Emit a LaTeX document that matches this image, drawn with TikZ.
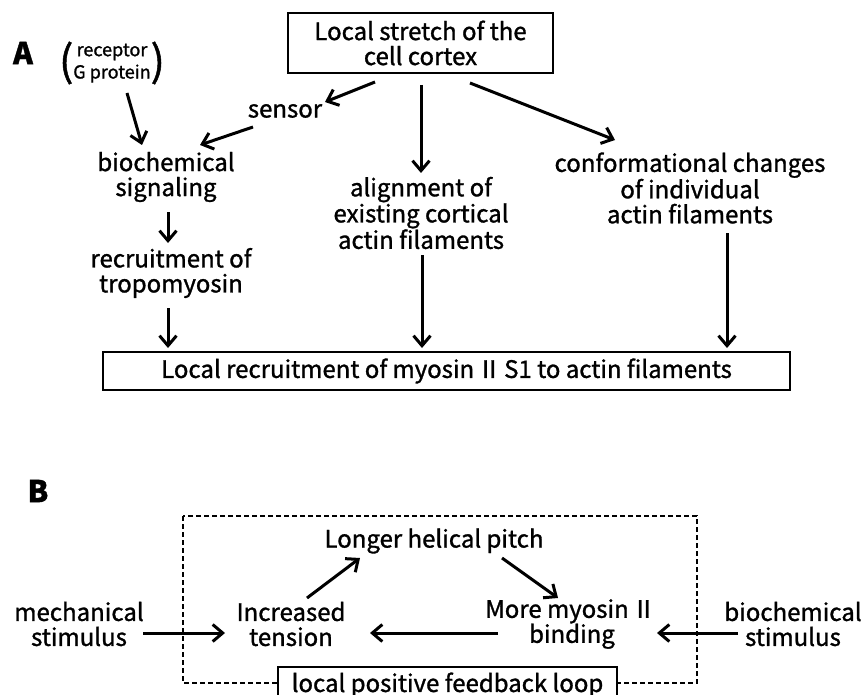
\documentclass[tikz,border=0pt]{standalone}
\usepackage{fontspec}
\setmainfont{Noto Sans CJK JP}[FakeBold=1.2]
\usetikzlibrary{arrows.meta}

\tikzset{
	lbl/.style={align=center, inner sep=2pt, font=\fontsize{24}{25}\selectfont},
	boxed/.style={lbl, draw, line width=2.6pt, inner sep=0pt},
	panel/.style={inner sep=0pt, font=\fontsize{30}{30}\selectfont\bfseries},
	arr/.style={line width=3pt, -{Straight Barb[length=10pt,width=17pt]}},
}
\newcommand{\romII}{\kern3pt Ⅱ\kern3pt}

\begin{document}
\begin{tikzpicture}[x=1pt,y=-1pt]
			%%%%% START %%%%%
			
			\useasboundingbox (0,0) rectangle (861,695);
			\clip (0,0) rectangle (861,695);
			
			% panel A
			\node[panel] (labA) at (23,53) {A};
			\node[boxed, minimum width=265, minimum height=60] (stretch) at (420.5,43) {Local stretch of the\\cell cortex};
			\node[lbl] (gprot) at (112,63) {{\fontsize{42}{42}\selectfont(}\raisebox{8pt}{\fontsize{18}{18}\selectfont\begin{tabular}{@{}c@{}}receptor\\[3pt]G protein\end{tabular}}{\fontsize{42}{42}\selectfont)}};
			\node[lbl] (sensor) at (285,111) {sensor};
			\node[lbl] (biochem) at (166,177) {biochemical\\signaling};
			\node[lbl] (tropo) at (171,273) {recruitment of\\tropomyosin};
			\node[lbl] (align) at (421,213) {alignment of\\existing cortical\\actin filaments};
			\node[lbl] (conf) at (690,188) {conformational changes\\of individual\\actin filaments};
			\node[boxed, minimum width=687, minimum height=38] (recruit) at (446.5,371) {Local recruitment of myosin\romII S1 to actin filaments};
			
			\draw[arr] ([shift={(-45.5,39)}]stretch.center) -- ([shift={(40,-9)}]sensor.center);
			\draw[arr] ([shift={(-32,16)}]sensor.center) -- ([shift={(34,-32)}]biochem.center);
			\draw[arr] ([shift={(15,30)}]gprot.center) -- ([shift={(-24,-32)}]biochem.center);
			\draw[arr] ([shift={(0.5,42)}]stretch.center) -- ([shift={(0,-40)}]align.center);
			\draw[arr] ([shift={(49.5,40)}]stretch.center) -- ([shift={(-75,-48)}]conf.center);
			\draw[arr] ([shift={(2,35)}]biochem.center) -- ([shift={(-3,-30)}]tropo.center);
			\draw[arr] ([shift={(-3,35)}]tropo.center) -- ([shift={(-278.5,-23)}]recruit.center);
			\draw[arr] ([shift={(1,42)}]align.center) -- ([shift={(-24.5,-23)}]recruit.center);
			\draw[arr] ([shift={(37,45)}]conf.center) -- ([shift={(280.5,-23)}]recruit.center);
			
			% panel B
			\node[panel] (labB) at (38,491) {B};
			\draw[line width=1.2pt, dash pattern=on 5pt off 3pt] (183,516) rectangle (697,683);
			\node[lbl, draw, fill=white, line width=1.2pt, minimum width=339, minimum height=36] (loop) at (447.5,685) {local positive feedback loop};
			\node[lbl] (pitch) at (434,541) {Longer helical pitch};
			\node[lbl] (inc) at (291,624) {Increased\\tension};
			\node[lbl] (more) at (572,624) {More myosin\romII\\binding};
			\node[lbl] (mech) at (79,624) {mechanical\\stimulus};
			\node[lbl] (bstim) at (793,624) {biochemical\\stimulus};
			
			\draw[arr] ([shift={(64,9)}]mech.center) -- ([shift={(-66,9)}]inc.center);
			\draw[arr] ([shift={(-74,9)}]more.center) -- ([shift={(79,9)}]inc.center);
			\draw[arr] ([shift={(-55,9)}]bstim.center) -- ([shift={(85,9)}]more.center);
			\draw[arr] ([shift={(16,-26)}]inc.center) -- ([shift={(-74,17)}]pitch.center);
			\draw[arr] ([shift={(68,17)}]pitch.center) -- ([shift={(-14,-26)}]more.center);
			
			%%%%% END %%%%%
\end{tikzpicture}
\end{document}
